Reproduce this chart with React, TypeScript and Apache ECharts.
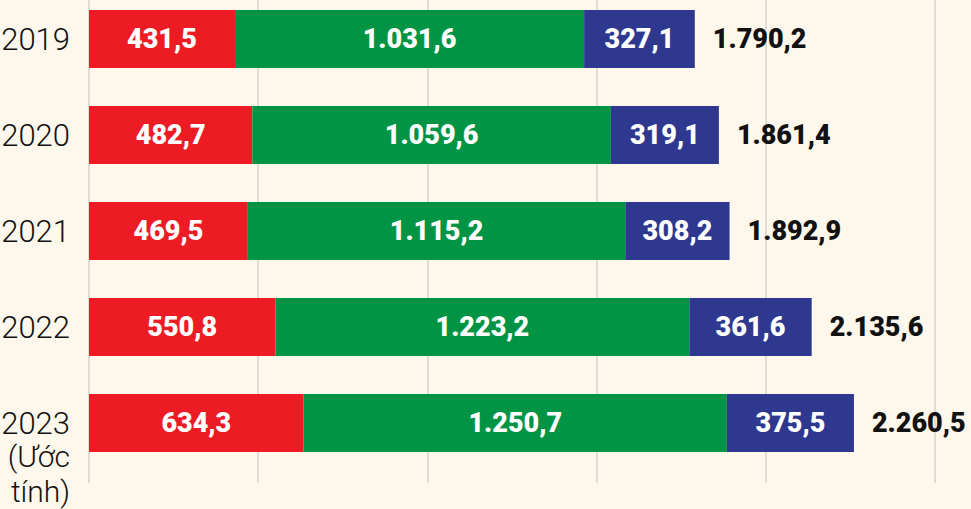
import React, { useEffect, useRef } from "react";
import * as echarts from "echarts";

const years = ["2019", "2020", "2021", "2022", "2023"];
const redValues = [431.5, 482.7, 469.5, 550.8, 634.3];
const greenValues = [1031.6, 1059.6, 1115.2, 1223.2, 1250.7];
const blueValues = [327.1, 319.1, 308.2, 361.6, 375.5];
const totals = [1790.2, 1861.4, 1892.9, 2135.6, 2260.5];
const estimateYear = "2023";
const estimateNote = ["(Ước", "tính)"];

const fmtVN = (v: number) => {
  const [i, d] = v.toFixed(1).split(".");
  return i.replace(/\B(?=(\d{3})+(?!\d))/g, ".") + "," + d;
};

const labelFont = "Roboto, 'Noto Sans', sans-serif";
const axisFont = "Roboto, 'Noto Sans', sans-serif";

export default function App() {
  const ref = useRef<HTMLDivElement>(null);
  useEffect(() => {
    if (!ref.current) return;
    const chart = echarts.init(ref.current, undefined, { renderer: "svg" });
    const inside = {
      show: true,
      position: "inside" as const,
      color: "#ffffff",
      fontFamily: labelFont,
      fontWeight: 900,
      fontSize: 27,
      formatter: (p: any) => fmtVN(p.value),
    };
    const barW = 58;
    const axisTxt = {
      fontSize: 31,
      fontWeight: 300,
      color: "#111111",
      fontFamily: axisFont,
    };
    chart.setOption({
      animation: false,
      backgroundColor: "#fdf7ec",
      grid: [
        { left: 89, right: 36, top: -9, height: 480, outerBoundsMode: "none", containLabel: false },
        { left: 89, right: 36, top: 0, bottom: 26, outerBoundsMode: "none", containLabel: false },
      ],
      xAxis: [
        { type: "value", gridIndex: 0, min: 0, max: 2500, interval: 500, show: false },
        {
          type: "value",
          gridIndex: 1,
          min: 0,
          max: 2500,
          interval: 500,
          axisLabel: { show: false },
          axisLine: { show: false },
          axisTick: { show: false },
          splitLine: { show: true, lineStyle: { color: "#d6d4d0", width: 1.5 } },
        },
      ],
      yAxis: [
        {
          type: "category",
          gridIndex: 0,
          inverse: true,
          data: years,
          axisLine: { show: false },
          axisTick: { show: false },
          axisLabel: {
            margin: 19,
            ...axisTxt,
            hideOverlap: false,
            interval: 0,
            formatter: (v: string) =>
              v === estimateYear
                ? "{s| }\n{s| }\n{y|" + v + "}\n" + estimateNote.map((n) => "{s|" + n + "}").join("\n")
                : v,
            rich: {
              s: { ...axisTxt, fontSize: 30, lineHeight: 35 },
              y: { ...axisTxt, lineHeight: 32 },
            },
          },
        },
        { type: "category", gridIndex: 1, show: false, data: years },
      ],
      series: [
        {
          type: "bar",
          stack: "t",
          data: redValues,
          barWidth: barW,
          itemStyle: { color: "#ed1c24" },
          label: inside,
        },
        {
          type: "bar",
          stack: "t",
          data: greenValues,
          barWidth: barW,
          itemStyle: { color: "#009444" },
          label: inside,
        },
        {
          type: "bar",
          stack: "t",
          data: blueValues,
          barWidth: barW,
          itemStyle: { color: "#2e388f" },
          label: inside,
        },
        {
          type: "bar",
          data: totals,
          barWidth: barW,
          barGap: "-100%",
          itemStyle: { color: "transparent" },
          z: 0,
          label: {
            show: true,
            position: "right",
            distance: 18,
            color: "#111111",
            fontFamily: labelFont,
            fontWeight: 900,
            fontSize: 27,
            formatter: (p: any) => fmtVN(p.value),
          },
        },
      ],
    });
    return () => chart.dispose();
  }, []);
  return (
    <div
      ref={ref}
      style={{ position: "fixed", left: 0, top: 0, width: 971, height: 509, background: "#fdf7ec" }}
    />
  );
}
